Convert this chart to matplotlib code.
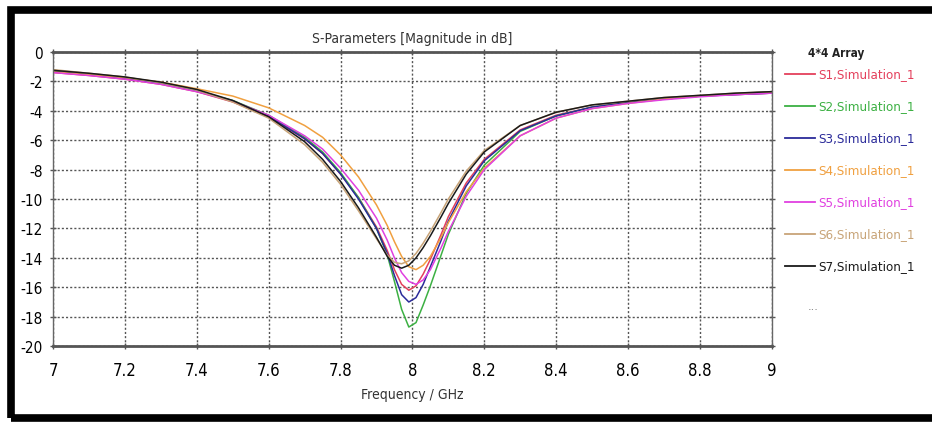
import matplotlib
matplotlib.use("Agg")
import matplotlib.pyplot as plt
from matplotlib.patches import Rectangle
from matplotlib.lines import Line2D

plt.rcParams['font.family'] = ['DejaVu Sans']
plt.rcParams['font.stretch'] = 'condensed'

# frequency points (GHz)
freq = [7.0, 7.1, 7.2, 7.3, 7.4, 7.5, 7.6, 7.7, 7.75, 7.8, 7.85, 7.9, 7.93, 7.95, 7.97, 7.99,
        8.01, 8.03, 8.05, 8.08, 8.1, 8.15, 8.2, 8.3, 8.4, 8.5, 8.6, 8.7, 8.8, 8.9, 9.0]

# |S| in dB
s1 = [-1.4, -1.6, -1.85, -2.2, -2.7, -3.4, -4.4, -5.9, -6.9, -8.3, -9.9, -11.9, -13.5, -14.8, -15.8, -16.2,
      -15.9, -15.1, -14.1, -12.4, -11.2, -8.9, -7.3, -5.3, -4.3, -3.75, -3.45, -3.2, -3.0, -2.9, -2.8]
s2 = [-1.3, -1.55, -1.8, -2.15, -2.65, -3.3, -4.3, -5.8, -6.8, -8.2, -9.9, -12.0, -13.8, -15.6, -17.5, -18.7,
      -18.4, -17.2, -15.9, -13.8, -12.4, -9.6, -7.7, -5.4, -4.35, -3.75, -3.45, -3.2, -3.0, -2.85, -2.7]
s3 = [-1.35, -1.55, -1.8, -2.15, -2.65, -3.35, -4.35, -5.9, -6.9, -8.3, -10.0, -12.0, -13.7, -15.2, -16.5, -17.0,
      -16.7, -15.8, -14.6, -12.8, -11.5, -9.1, -7.4, -5.35, -4.35, -3.75, -3.45, -3.2, -3.0, -2.9, -2.8]
s4 = [-1.35, -1.55, -1.75, -2.05, -2.5, -3.0, -3.8, -5.0, -5.8, -7.0, -8.5, -10.4, -11.8, -12.9, -13.9, -14.6,
      -14.8, -14.5, -13.9, -12.6, -11.6, -9.5, -7.9, -5.7, -4.5, -3.85, -3.5, -3.2, -3.0, -2.85, -2.75]
s5 = [-1.4, -1.6, -1.85, -2.2, -2.7, -3.35, -4.3, -5.7, -6.6, -7.9, -9.4, -11.3, -12.8, -14.0, -15.0, -15.6,
      -15.8, -15.5, -14.8, -13.3, -12.2, -9.8, -8.0, -5.7, -4.5, -3.85, -3.5, -3.25, -3.05, -2.9, -2.8]
s6 = [-1.2, -1.45, -1.7, -2.1, -2.6, -3.4, -4.5, -6.3, -7.5, -9.0, -10.8, -12.7, -13.8, -14.3, -14.4, -14.2,
      -13.7, -13.0, -12.2, -10.9, -10.0, -8.1, -6.7, -5.0, -4.1, -3.6, -3.35, -3.1, -2.95, -2.8, -2.7]
s7 = [-1.25, -1.45, -1.7, -2.05, -2.55, -3.3, -4.4, -6.1, -7.3, -8.8, -10.6, -12.6, -13.9, -14.5, -14.7, -14.5,
      -14.0, -13.3, -12.5, -11.2, -10.3, -8.3, -6.8, -5.0, -4.1, -3.6, -3.35, -3.1, -2.95, -2.8, -2.7]

series = [s1, s2, s3, s4, s5, s6, s7]
labels = ['S1,Simulation_1', 'S2,Simulation_1', 'S3,Simulation_1', 'S4,Simulation_1',
          'S5,Simulation_1', 'S6,Simulation_1', 'S7,Simulation_1']
colors = ['#e4405c', '#3cb043', '#2b2b9a', '#f0a040', '#e040e0', '#c8a478', '#1a1a1a']

xticks = [7, 7.2, 7.4, 7.6, 7.8, 8, 8.2, 8.4, 8.6, 8.8, 9]
xticklabels = ['7', '7.2', '7.4', '7.6', '7.8', '8', '8.2', '8.4', '8.6', '8.8', '9']
yticks = list(range(0, -21, -2))

W, H = 932, 427
fig = plt.figure(figsize=(W / 100, H / 100), dpi=100)
ax = fig.add_axes([0.057, 0.187, 0.771, 0.689])

for s, lab, c in zip(series, labels, colors):
    ax.plot(freq, s, color=c, lw=1.1, label=lab)

ax.set_xlim(7, 9)
ax.set_ylim(-20, 0)
ax.set_xticks(xticks)
ax.set_xticklabels(xticklabels)
ax.set_yticks(yticks)
ax.set_yticklabels([str(v) for v in yticks])
ax.tick_params(direction='inout', length=5, width=1, color='#555555',
               labelsize=11, top=True, right=True, pad=5)
ax.tick_params(axis='x', pad=8, labelsize=12)
ax.grid(True, linestyle=(0, (1.5, 1.5)), color='#555555', lw=1)

for side in ['top', 'bottom']:
    ax.spines[side].set_linewidth(2)
    ax.spines[side].set_color('#555555')
for side in ['left', 'right']:
    ax.spines[side].set_linewidth(1)
    ax.spines[side].set_color('#666666')

ax.set_title('S-Parameters [Magnitude in dB]', fontsize=10, color='#333333', pad=7)
ax.set_xlabel('Frequency / GHz', fontsize=10, color='#333333', labelpad=6)

# legend drawn by hand, CST style (positions in pixels from top-left)
fig.text(808 / W, 1 - 53 / H, '4*4 Array', fontsize=8.5, fontweight='bold',
         color='#222222', va='center')
for i, (lab, c) in enumerate(zip(labels, colors)):
    y = 1 - (75 + 32 * i) / H
    fig.add_artist(Line2D([785 / W, 815 / W], [y, y], color=c, lw=1.3,
                          transform=fig.transFigure))
    fig.text(818 / W, y, lab, fontsize=9.5, color=c, va='center')
fig.text(808 / W, 1 - 307 / H, '...', fontsize=9, color='#888888', va='center')

# outer frame
fig.patches.append(Rectangle((0.012, 0.019), 1.0, 0.955, transform=fig.transFigure,
                             fill=False, edgecolor='black', lw=5.5))

fig.savefig('out.png', dpi=100)
